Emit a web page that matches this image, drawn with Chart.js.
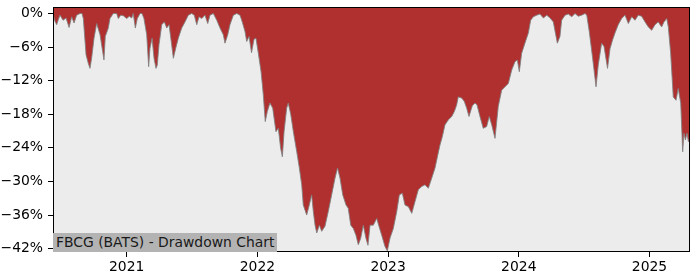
<!DOCTYPE html>
<html>
<head>
<meta charset="utf-8">
<script src="https://cdn.jsdelivr.net/npm/chart.js@4.4.1/dist/chart.umd.min.js"></script>
<style>
  html, body { margin: 0; padding: 0; background: #fff; }
  #wrap { position: relative; width: 700px; height: 280px; }
  #label {
    position: absolute; left: 53px; top: 233px; width: 224px; height: 19px;
    background: #b3b3b3; color: #1a1a1a;
    font: 13.9px "DejaVu Sans", sans-serif; line-height: 19px;
    padding-left: 3px; box-sizing: border-box; white-space: nowrap;
  }
</style>
</head>
<body>
<div id="wrap">
  <canvas id="dd" width="700" height="280"></canvas>
  <div id="label">FBCG (BATS) - Drawdown Chart</div>
</div>
<script>
// time as decimal years, drawdown in percent
const years = [
  2020.436, 2020.448, 2020.464, 2020.478, 2020.490, 2020.513, 2020.536, 2020.559, 2020.579, 2020.597,
  2020.617, 2020.643, 2020.658, 2020.668, 2020.689, 2020.706, 2020.719, 2020.732, 2020.750, 2020.770,
  2020.796, 2020.816, 2020.826, 2020.836, 2020.859, 2020.872, 2020.897, 2020.923, 2020.936, 2020.954,
  2020.974, 2021.000, 2021.020, 2021.038, 2021.050, 2021.066, 2021.081, 2021.102, 2021.117, 2021.132,
  2021.153, 2021.168, 2021.178, 2021.194, 2021.209, 2021.224, 2021.234, 2021.247, 2021.268, 2021.288,
  2021.306, 2021.324, 2021.344, 2021.357, 2021.375, 2021.395, 2021.421, 2021.446, 2021.471, 2021.497,
  2021.517, 2021.536, 2021.553, 2021.574, 2021.599, 2021.620, 2021.637, 2021.663, 2021.689, 2021.714,
  2021.739, 2021.752, 2021.773, 2021.790, 2021.816, 2021.842, 2021.867, 2021.884, 2021.905, 2021.918,
  2021.936, 2021.955, 2021.974, 2021.989, 2022.007, 2022.028, 2022.045, 2022.060, 2022.076, 2022.096,
  2022.117, 2022.142, 2022.160, 2022.178, 2022.191, 2022.204, 2022.224, 2022.236, 2022.255, 2022.275,
  2022.301, 2022.321, 2022.339, 2022.351, 2022.377, 2022.397, 2022.415, 2022.428, 2022.441, 2022.454,
  2022.474, 2022.492, 2022.517, 2022.542, 2022.568, 2022.594, 2022.613, 2022.632, 2022.653, 2022.678,
  2022.695, 2022.714, 2022.734, 2022.754, 2022.772, 2022.790, 2022.810, 2022.831, 2022.846, 2022.862,
  2022.887, 2022.913, 2022.930, 2022.951, 2022.976, 2022.994, 2023.015, 2023.040, 2023.066, 2023.086,
  2023.109, 2023.129, 2023.155, 2023.181, 2023.206, 2023.231, 2023.257, 2023.282, 2023.308, 2023.334,
  2023.359, 2023.380, 2023.397, 2023.415, 2023.435, 2023.461, 2023.487, 2023.507, 2023.525, 2023.537,
  2023.563, 2023.583, 2023.601, 2023.619, 2023.644, 2023.665, 2023.680, 2023.703, 2023.728, 2023.754,
  2023.774, 2023.793, 2023.818, 2023.843, 2023.869, 2023.894, 2023.920, 2023.946, 2023.971, 2023.989,
  2024.004, 2024.022, 2024.047, 2024.073, 2024.091, 2024.111, 2024.137, 2024.162, 2024.188, 2024.214,
  2024.239, 2024.264, 2024.295, 2024.315, 2024.328, 2024.354, 2024.379, 2024.405, 2024.430, 2024.455,
  2024.481, 2024.507, 2024.520, 2024.539, 2024.565, 2024.591, 2024.608, 2024.634, 2024.652, 2024.679,
  2024.698, 2024.718, 2024.736, 2024.761, 2024.787, 2024.813, 2024.838, 2024.864, 2024.889, 2024.914,
  2024.940, 2024.966, 2024.991, 2025.017, 2025.042, 2025.067, 2025.093, 2025.111, 2025.132, 2025.144,
  2025.162, 2025.182, 2025.203, 2025.220, 2025.239, 2025.254, 2025.264, 2025.275, 2025.287, 2025.298,
  2025.310
]

const drawdown = [
  0, -1.2, -2.0, -1.0, -0.3, -1.2, -0.8, -2.5, -0.6, -1.7,
  -0.3, 0, 0, -0.9, -7.4, -8.9, -9.8, -7.9, -4.4, -1.8,
  -3.8, -6.8, -8.3, -4.1, -2.6, -0.9, 0, 0, -0.9, -0.3,
  -0.4, -0.9, -0.5, -0.8, 0, -2.6, -0.9, 0, 0, -0.9,
  -3.8, -9.5, -6.2, -4.4, -8.0, -9.8, -9.2, -5.6, -2.0, -1.5,
  -2.6, -2.0, -5.6, -8.0, -6.2, -4.4, -2.6, -1.5, -0.3, 0,
  -0.3, -2.0, -0.6, -0.9, -0.3, -1.8, -0.3, 0, -1.2, -2.6,
  -3.8, -5.3, -3.8, -2.0, -0.3, 0, -0.3, -1.5, -3.2, -5.0,
  -4.1, -7.0, -4.6, -4.4, -7.1, -10.4, -14.5, -19.3, -17.5, -16.0,
  -16.9, -21.1, -20.5, -24.1, -25.6, -21.1, -16.9, -16.0, -18.0, -21.1,
  -24.7, -27.6, -30.6, -34.2, -36.0, -34.2, -32.4, -35.4, -37.8, -39.2,
  -37.8, -38.9, -38.0, -35.4, -32.4, -29.4, -27.6, -29.4, -32.4, -34.2,
  -34.8, -37.8, -38.4, -39.6, -41.3, -40.2, -37.8, -40.2, -41.4, -37.8,
  -37.8, -36.6, -38.0, -39.6, -41.6, -42.4, -40.1, -38.4, -35.4, -32.4,
  -32.1, -34.2, -34.5, -35.7, -33.6, -31.5, -30.9, -30.6, -31.2, -29.4,
  -27.6, -25.3, -23.5, -22.0, -19.9, -19.0, -18.4, -17.5, -16.3, -14.9,
  -15.1, -15.7, -16.9, -18.4, -16.5, -16.0, -16.3, -18.4, -20.5, -20.2,
  -18.4, -19.9, -22.3, -16.6, -13.7, -13.1, -12.5, -10.1, -8.6, -8.3,
  -10.4, -7.1, -5.3, -3.5, -1.2, -0.6, -0.3, -0.1, -0.8, -0.3,
  -0.8, -1.5, -5.3, -4.1, -1.2, -0.3, -0.1, -0.6, 0, -0.5,
  -0.3, 0, -0.3, -3.2, -8.0, -13.1, -9.2, -5.3, -5.9, -9.8,
  -6.3, -4.7, -3.5, -2.0, -0.9, -0.3, -1.8, -0.6, -1.2, -0.3,
  -0.5, -1.5, -2.4, -3.0, -2.0, -1.5, -2.4, -1.5, -0.9, -2.4,
  -7.1, -14.9, -15.5, -13.4, -16.0, -24.7, -21.4, -22.6, -21.4, -22.9,
  -22.5
]

const yearTicks = [2021, 2022, 2023, 2024, 2025]
const pctTicks = [0, -6, -12, -18, -24, -30, -36, -42]

const points = years.map((x, i) => ({ x: x, y: drawdown[i] }))

const plotFrame = {
    id: "plotFrame",
    beforeDatasetsDraw(chart) {
        const { ctx, chartArea: a } = chart
        ctx.save()
        ctx.fillStyle = "#ececec"
        ctx.fillRect(a.left, a.top, a.right - a.left, a.bottom - a.top)
        ctx.restore()
    },
    afterDraw(chart) {
        const { ctx, chartArea: a } = chart
        ctx.save()
        ctx.strokeStyle = "#000"
        ctx.lineWidth = 1
        ctx.strokeRect(a.left + 0.5, a.top + 0.5, a.right - a.left - 1, a.bottom - a.top - 1)
        ctx.restore()
    }
}

const tickFont = { family: "'DejaVu Sans', sans-serif", size: 13.9 }

new Chart(document.getElementById("dd").getContext("2d"), {
    type: "line",
    data: {
        datasets: [{
            data: points,
            borderColor: "rgba(128,128,128,0.85)",
            borderWidth: 1,
            backgroundColor: "#b03030",
            fill: "end",
            pointRadius: 0,
            tension: 0
        }]
    },
    options: {
        responsive: false,
        animation: false,
        layout: { padding: { left: 0, right: 10, top: 7, bottom: 0 } },
        plugins: { legend: { display: false }, tooltip: { enabled: false } },
        scales: {
            x: {
                type: "linear",
                min: 2020.436,
                max: 2025.31,
                afterBuildTicks: s => { s.ticks = yearTicks.map(v => ({ value: v })) },
                afterFit: s => { s.height = 28; s.paddingLeft = 0; s.paddingRight = 0 },
                grid: { drawOnChartArea: false, drawTicks: true, tickLength: 5, tickColor: "#000" },
                border: { display: false },
                ticks: { color: "#000", font: tickFont, padding: 2, maxRotation: 0, callback: v => String(v) }
            },
            y: {
                min: -42.6,
                max: 1.16,
                afterBuildTicks: s => { s.ticks = pctTicks.map(v => ({ value: v })) },
                afterFit: s => { s.width = 53; s.paddingTop = 0; s.paddingBottom = 0 },
                grid: { drawOnChartArea: false, drawTicks: true, tickLength: 5, tickColor: "#000" },
                border: { display: false },
                ticks: {
                    color: "#000", font: tickFont, padding: 5,
                    callback: v => v === 0 ? "0%" : "\u2212" + Math.abs(v) + "%"
                }
            }
        }
    },
    plugins: [plotFrame]
})
</script>
</body>
</html>
